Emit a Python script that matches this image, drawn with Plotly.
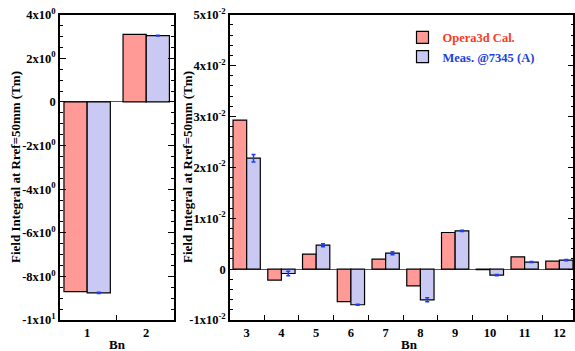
import plotly.graph_objects as go

# ---- data ----
bn_low = [1, 2]
calc_low = [-8.70, 3.10]
meas_low = [-8.76, 3.04]
meas_low_err = [0.03, 0.02]

bn_high = [3, 4, 5, 6, 7, 8, 9, 10, 11, 12]
calc_high = [0.0293, -0.00216, 0.00295, -0.0064, 0.00196, -0.00328, 0.0072, -0.0001, 0.00242, 0.00157]
meas_high = [0.0218, -0.00086, 0.0047, -0.0070, 0.00314, -0.00603, 0.00752, -0.00118, 0.00138, 0.00177]
meas_high_err = [0.00075, 0.00045, 0.0003, 0.0001, 0.0003, 0.0004, 0.0001, 0.0001, 0.0001, 0.0001]

low_ticks = [4, 2, 0, -2, -4, -6, -8, -10]
low_ticktext = ["4x10<sup>0</sup>", "2x10<sup>0</sup>", "0", "-2x10<sup>0</sup>", "-4x10<sup>0</sup>",
                "-6x10<sup>0</sup>", "-8x10<sup>0</sup>", "-1x10<sup>1</sup>"]
high_ticks = [0.05, 0.04, 0.03, 0.02, 0.01, 0, -0.01]
high_ticktext = ["5x10<sup>-2</sup>", "4x10<sup>-2</sup>", "3x10<sup>-2</sup>", "2x10<sup>-2</sup>",
                 "1x10<sup>-2</sup>", "0", "-1x10<sup>-2</sup>"]

calc_name = "Opera3d Cal."
meas_name = "Meas. @7345 (A)"

RED = "#ff9a96"
BLUE = "#c9c9f3"
ERR = "#1a3cff"
FONT = "Liberation Serif, DejaVu Serif, serif"

def b(s):
    return "<b>" + s + "</b>"

fig = go.Figure()
fig.add_trace(go.Bar(x=bn_low, y=calc_low, marker=dict(color=RED, line=dict(color="black", width=1.2)),
                     xaxis="x", yaxis="y", showlegend=False, name=calc_name))
fig.add_trace(go.Bar(x=bn_low, y=meas_low, marker=dict(color=BLUE, line=dict(color="black", width=1.2)),
                     error_y=dict(type="data", array=meas_low_err, color=ERR, thickness=1.5, width=2),
                     xaxis="x", yaxis="y", showlegend=False, name=meas_name))
fig.add_trace(go.Bar(x=bn_high, y=calc_high, marker=dict(color=RED, line=dict(color="black", width=1.2)),
                     xaxis="x2", yaxis="y2",
                     name="<span style='color:#ff3a22'><b>" + calc_name + "</b></span>"))
fig.add_trace(go.Bar(x=bn_high, y=meas_high, marker=dict(color=BLUE, line=dict(color="black", width=1.2)),
                     error_y=dict(type="data", array=meas_high_err, color=ERR, thickness=1.5, width=2),
                     xaxis="x2", yaxis="y2",
                     name="<span style='color:#2040e0'><b>" + meas_name + "</b></span>"))

tickfont = dict(family=FONT, size=12.5, color="black")
xcommon = dict(showline=True, linecolor="black", linewidth=1.5, mirror=True, ticks="",
               tickfont=tickfont, showgrid=False, zeroline=False, automargin=False,
               minor=dict(ticks="inside", tick0=0.5, dtick=1, ticklen=5, tickcolor="black", tickwidth=1))
ycommon = dict(showline=True, linecolor="black", linewidth=1.5, mirror="ticks", ticks="inside",
               ticklen=6, tickcolor="black", tickwidth=1, tickfont=tickfont, showgrid=False,
               automargin=False,
               zeroline=True, zerolinecolor="#555555", zerolinewidth=1)

fig.update_layout(
    width=575, height=351,
    margin=dict(l=0, r=0, t=0, b=0, autoexpand=False),
    paper_bgcolor="white", plot_bgcolor="white",
    barmode="group", bargap=0.215, bargroupgap=0,
    xaxis=dict(domain=[0.1043, 0.3026], range=[0.54, 2.47], tickvals=bn_low,
               ticktext=[b(str(v)) for v in bn_low], anchor="y", **xcommon),
    yaxis=dict(domain=[0.0883, 0.958], range=[-10, 4], tickvals=low_ticks,
               ticktext=[b(t) for t in low_ticktext],
               anchor="x", minor=dict(ticks="inside", dtick=0.5, ticklen=3, tickcolor="black"), **ycommon),
    xaxis2=dict(domain=[0.4, 0.997], range=[2.52, 12.4], tickvals=bn_high,
                ticktext=[b(str(v)) for v in bn_high], anchor="y2", **xcommon),
    yaxis2=dict(domain=[0.0883, 0.958], range=[-0.01, 0.05], tickvals=high_ticks,
                ticktext=[b(t) for t in high_ticktext],
                anchor="x2", minor=dict(ticks="inside", dtick=0.002, ticklen=3, tickcolor="black"), **ycommon),
    legend=dict(x=0.70, y=0.935, xanchor="left", yanchor="top", bgcolor="rgba(0,0,0,0)",
                font=dict(family=FONT, size=12.5), tracegroupgap=0, itemwidth=30),
    font=dict(family=FONT, size=12, color="black"),
)

ytitle = b("Field Integral at Rref=50mm (Tm)")
for xp in (15 / 575, 187 / 575):
    fig.add_annotation(text=ytitle, x=xp, xref="paper", y=1 - 167 / 351, yref="paper", textangle=-90,
                       xanchor="center", yanchor="middle",
                       showarrow=False, font=dict(family=FONT, size=13))
for xp in (117 / 575, 409 / 575):
    fig.add_annotation(text=b("Bn"), x=xp, xref="paper", y=1 - 344 / 351, yref="paper",
                       xanchor="center", yanchor="middle",
                       showarrow=False, font=dict(family=FONT, size=13))

fig.write_html("out.html", config={"displayModeBar": False},
               post_script="document.body.style.margin='0';document.body.style.padding='0';")
